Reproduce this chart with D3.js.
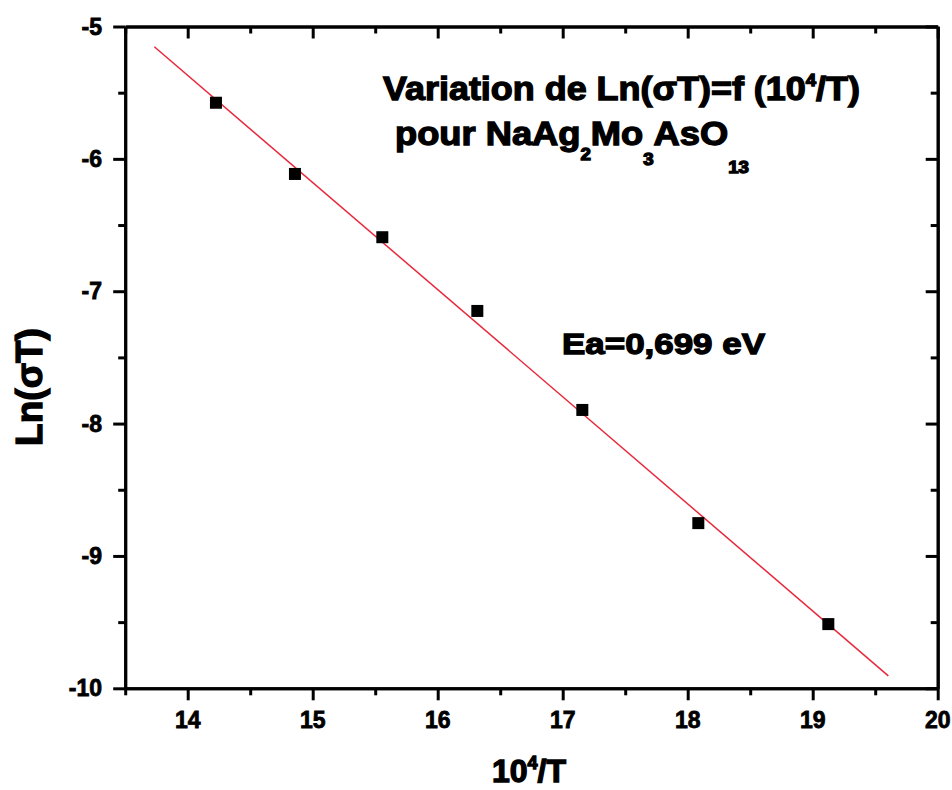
<!DOCTYPE html>
<html>
<head>
<meta charset="utf-8">
<script src="https://cdn.jsdelivr.net/npm/d3@7"></script>
<style>
  body { margin: 0; background: #fff; }
  text { font-family: "Liberation Sans", Arial, sans-serif; font-weight: bold; fill: #000; stroke: #000; stroke-width: 0.8px; }
  .heavy { stroke-width: 1.3px; }
</style>
</head>
<body>
<svg width="952" height="790"></svg>
<script>
// data
var invT = [14.226, 14.858, 15.557, 16.317, 17.157, 18.085, 19.125];
var lnSigmaT = [-5.576, -6.114, -6.592, -7.149, -7.897, -8.752, -9.515];

// fitted line end points
var fitX = [13.733, 19.605];
var fitY = [-5.153, -9.906];

var xTicks = [14, 15, 16, 17, 18, 19, 20];
var yTicks = [-5, -6, -7, -8, -9, -10];

var svg = d3.select("svg");

var x = d3.scaleLinear().domain([13.5, 20]).range([125.2, 937.7]);
var y = d3.scaleLinear().domain([-10, -5]).range([688.3, 26.5]);

var minorX = d3.range(13.5, 20.01, 0.5).filter(function (v) { return v % 1 !== 0; });
var minorY = d3.range(-10, -4.99, 0.5).filter(function (v) { return v % 1 !== 0; });

function styleAxis(g) {
    g.selectAll("path, line").attr("stroke", "#000").attr("stroke-width", 3);
    g.selectAll("text").remove();
}

// minor ticks
svg.append("g").attr("transform", "translate(0," + y(-10) + ")")
    .call(d3.axisBottom(x).tickValues(minorX).tickSize(7).tickSizeOuter(0)).call(styleAxis);
svg.append("g").attr("transform", "translate(0," + y(-5) + ")")
    .call(d3.axisTop(x).tickValues(minorX).tickSize(-7).tickSizeOuter(0)).call(styleAxis);
svg.append("g").attr("transform", "translate(" + x(13.5) + ",0)")
    .call(d3.axisLeft(y).tickValues(minorY).tickSize(7).tickSizeOuter(0)).call(styleAxis);
svg.append("g").attr("transform", "translate(" + x(20) + ",0)")
    .call(d3.axisRight(y).tickValues(minorY).tickSize(-7).tickSizeOuter(0)).call(styleAxis);

// major ticks
svg.append("g").attr("transform", "translate(0," + y(-10) + ")")
    .call(d3.axisBottom(x).tickValues(xTicks).tickSize(12).tickSizeOuter(0)).call(styleAxis);
svg.append("g").attr("transform", "translate(0," + y(-5) + ")")
    .call(d3.axisTop(x).tickValues(xTicks).tickSize(-12).tickSizeOuter(0)).call(styleAxis);
svg.append("g").attr("transform", "translate(" + x(13.5) + ",0)")
    .call(d3.axisLeft(y).tickValues(yTicks).tickSize(12).tickSizeOuter(0)).call(styleAxis);
svg.append("g").attr("transform", "translate(" + x(20) + ",0)")
    .call(d3.axisRight(y).tickValues(yTicks).tickSize(-12).tickSizeOuter(0)).call(styleAxis);

// tick labels
svg.append("g").selectAll("text").data(xTicks).enter().append("text")
    .attr("x", function (d) { return x(d); })
    .attr("y", 728)
    .attr("text-anchor", "middle")
    .style("font-size", "23px")
    .text(function (d) { return d; });

svg.append("g").selectAll("text").data(yTicks).enter().append("text")
    .attr("x", 102)
    .attr("y", function (d) { return y(d) + 8; })
    .attr("text-anchor", "end")
    .style("font-size", "23px")
    .text(function (d) { return d; });

// fit line
svg.append("line")
    .attr("x1", x(fitX[0])).attr("y1", y(fitY[0]))
    .attr("x2", x(fitX[1])).attr("y2", y(fitY[1]))
    .attr("stroke", "#e8283c")
    .attr("stroke-width", 1.5);

// points
svg.append("g").selectAll("rect").data(invT).enter().append("rect")
    .attr("x", function (d) { return x(d) - 6; })
    .attr("y", function (d, i) { return y(lnSigmaT[i]) - 6; })
    .attr("width", 12)
    .attr("height", 12)
    .attr("fill", "#000");

// axis titles
var xl = svg.append("text").attr("class", "heavy").attr("x", 492).attr("y", 782).style("font-size", "32px");
xl.append("tspan").text("10");
xl.append("tspan").attr("dy", -13).style("font-size", "18px").text("4");
xl.append("tspan").attr("dy", 13).text("/T");

svg.append("text")
    .attr("class", "heavy")
    .attr("transform", "translate(42,387) rotate(-90)")
    .attr("text-anchor", "middle")
    .style("font-size", "37px")
    .text("Ln(σT)");

// annotations
var t1 = svg.append("text").attr("class", "heavy").attr("x", 383).attr("y", 100).style("font-size", "33px")
    .attr("textLength", 477).attr("lengthAdjust", "spacingAndGlyphs");
t1.append("tspan").text("Variation de Ln(σT)=f (10");
t1.append("tspan").attr("dy", -14).style("font-size", "17px").text("4");
t1.append("tspan").attr("dy", 14).text("/T)");

var t2 = svg.append("g").attr("transform", "translate(395,145) scale(1.1,1)")
    .append("text").attr("class", "heavy").attr("x", 0).attr("y", 0).style("font-size", "33px");
t2.append("tspan").text("pour NaAg");
t2.append("tspan").attr("dy", 15).style("font-size", "17px").text("2");
t2.append("tspan").attr("dy", -15).text("Mo");
t2.append("tspan").attr("dy", 20).style("font-size", "17px").text("3");
t2.append("tspan").attr("dy", -20).text("AsO");
t2.append("tspan").attr("dy", 28).style("font-size", "17px").text("13");

svg.append("text").attr("class", "heavy").attr("x", 562).attr("y", 354).style("font-size", "30px")
    .attr("textLength", 203).attr("lengthAdjust", "spacingAndGlyphs")
    .text("Ea=0,699 eV");
</script>
</body>
</html>
